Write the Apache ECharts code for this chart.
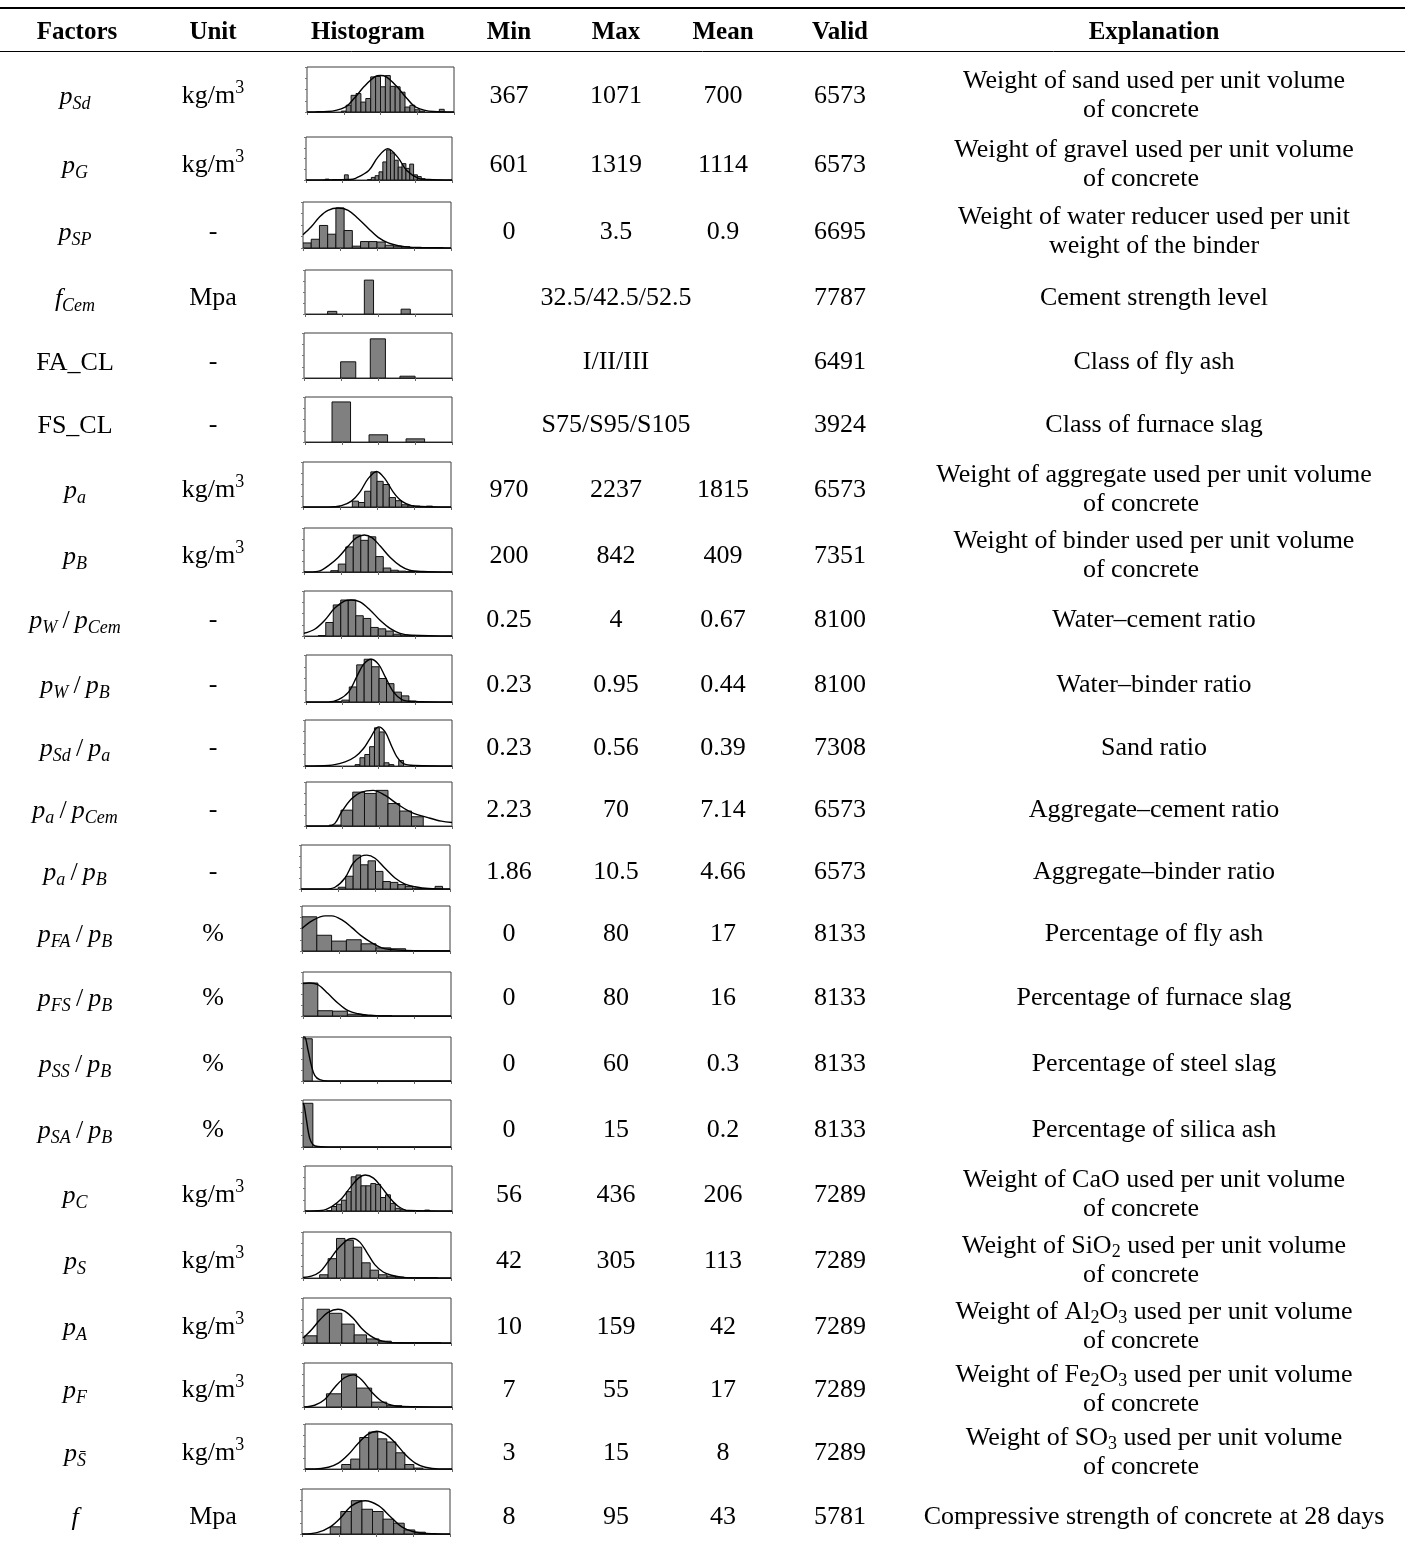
<!DOCTYPE html>
<html>
<head>
<meta charset="utf-8">
<script src="https://cdn.jsdelivr.net/npm/echarts@6/dist/echarts.min.js"></script>
<style>
  html, body { margin: 0; padding: 0; background: #ffffff; }
  #chart { width: 1410px; height: 1546px; }
</style>
</head>
<body>
<div id="chart"></div>
<script>
// ---------- table content ----------
const headers = ['Factors', 'Unit', 'Histogram', 'Min', 'Max', 'Mean', 'Valid', 'Explanation'];

const factorLabels = [
  '{i|p}{s|Sd}', '{i|p}{s|G}', '{i|p}{s|SP}', '{i|f}{s|Cem}', 'FA_CL', 'FS_CL',
  '{i|p}{s|a}', '{i|p}{s|B}',
  '{i|p}{s|W}{n|\u2009/\u2009}{i|p}{s|Cem}', '{i|p}{s|W}{n|\u2009/\u2009}{i|p}{s|B}',
  '{i|p}{s|Sd}{n|\u2009/\u2009}{i|p}{s|a}', '{i|p}{s|a}{n|\u2009/\u2009}{i|p}{s|Cem}',
  '{i|p}{s|a}{n|\u2009/\u2009}{i|p}{s|B}', '{i|p}{s|FA}{n|\u2009/\u2009}{i|p}{s|B}',
  '{i|p}{s|FS}{n|\u2009/\u2009}{i|p}{s|B}', '{i|p}{s|SS}{n|\u2009/\u2009}{i|p}{s|B}',
  '{i|p}{s|SA}{n|\u2009/\u2009}{i|p}{s|B}',
  '{i|p}{s|C}', '{i|p}{s|S}', '{i|p}{s|A}', '{i|p}{s|F}', '{i|p}{s|S\u0304}', '{i|f}'
];

const units = [
  'kg/m{sup|3}', 'kg/m{sup|3}', '-', 'Mpa', '-', '-', 'kg/m{sup|3}', 'kg/m{sup|3}',
  '-', '-', '-', '-', '-', '%', '%', '%', '%',
  'kg/m{sup|3}', 'kg/m{sup|3}', 'kg/m{sup|3}', 'kg/m{sup|3}', 'kg/m{sup|3}', 'Mpa'
];

const minValues  = [367, 601, 0, null, null, null, 970, 200, 0.25, 0.23, 0.23, 2.23, 1.86, 0, 0, 0, 0, 56, 42, 10, 7, 3, 8];
const maxValues  = [1071, 1319, 3.5, null, null, null, 2237, 842, 4, 0.95, 0.56, 70, 10.5, 80, 80, 60, 15, 436, 305, 159, 55, 15, 95];
const meanValues = [700, 1114, 0.9, null, null, null, 1815, 409, 0.67, 0.44, 0.39, 7.14, 4.66, 17, 16, 0.3, 0.2, 206, 113, 42, 17, 8, 43];
const validCounts = [6573, 6573, 6695, 7787, 6491, 3924, 6573, 7351, 8100, 8100, 7308, 6573, 6573, 8133, 8133, 8133, 8133, 7289, 7289, 7289, 7289, 7289, 5781];
const classLevels = [null, null, null, '32.5/42.5/52.5', 'I/II/III', 'S75/S95/S105', null, null, null, null, null, null, null, null, null, null, null, null, null, null, null, null, null];

const explanations = [
  ['Weight of sand used per unit volume', 'of concrete'],
  ['Weight of gravel used per unit volume', 'of concrete'],
  ['Weight of water reducer used per unit', 'weight of the binder'],
  ['Cement strength level'],
  ['Class of fly ash'],
  ['Class of furnace slag'],
  ['Weight of aggregate used per unit volume', 'of concrete'],
  ['Weight of binder used per unit volume', 'of concrete'],
  ['Water\u2013cement ratio'],
  ['Water\u2013binder ratio'],
  ['Sand ratio'],
  ['Aggregate\u2013cement ratio'],
  ['Aggregate\u2013binder ratio'],
  ['Percentage of fly ash'],
  ['Percentage of furnace slag'],
  ['Percentage of steel slag'],
  ['Percentage of silica ash'],
  ['Weight of CaO used per unit volume', 'of concrete'],
  ['Weight of SiO{sub|2} used per unit volume', 'of concrete'],
  ['Weight of Al{sub|2}O{sub|3} used per unit volume', 'of concrete'],
  ['Weight of Fe{sub|2}O{sub|3} used per unit volume', 'of concrete'],
  ['Weight of SO{sub|3} used per unit volume', 'of concrete'],
  ['Compressive strength of concrete at 28 days']
];

// ---------- histogram bin heights (share of frame height) ----------
const binsSand = [0.01,0,0,0,0,0.02,0.15,0.37,0.41,0.22,0.30,0.78,0.79,0.56,0.81,0.57,0.56,0.44,0.11,0.15,0.05,0.02,0,0,0,0.06];
const binsGravel = [0.02,0,0.01,0,0,0.12,0,0,0,0,0,0.01,0.06,0.10,0.19,0.42,0.70,0.63,0.46,0.30,0.38,0.27,0.37,0.12,0.08,0.03];
const binsReducer = [0.11,0.19,0.49,0.30,0.87,0.38,0.04,0.14,0.14,0.13,0.06,0.04,0.03,0.01,0.01,0.01,0.01];
const classCement = [0.06,0.77,0.11];
const classFlyAsh = [0.36,0.87,0.04];
const classSlag = [0.89,0.16,0.07];
const binsAggregate = [0.01,0,0,0.13,0.10,0.35,0.78,0.57,0.50,0.21,0.14,0.05,0.03,0.02,0,0.02];
const binsBinder = [0.03,0.18,0.57,0.84,0.72,0.80,0.35,0.09,0.04,0.02,0.01,0.01,0.01];
const binsWaterCement = [0.01,0.30,0.69,0.80,0.80,0.45,0.39,0.19,0.16,0.11,0.04,0.02,0.01];
const binsWaterBinder = [0.01,0.04,0.32,0.79,0.91,0.75,0.50,0.39,0.21,0.13,0.02,0.01];
const binsSandRatio = [0.03,0.18,0.25,0.42,0.83,0.74,0.07,0.03,0,0.12,0,0,0.01,0.01];
const binsAggCement = [0.02,0.36,0.77,0.74,0.81,0.51,0.34,0.21];
const binsAggBinder = [0.04,0.29,0.77,0.55,0.64,0.40,0.17,0.15,0.10,0.06,0.02,0.01,0,0.06];
const binsFlyAshPct = [0.76,0.35,0.22,0.25,0.16,0.07,0.05,0.01,0.005,0.005];
const binsSlagPct = [0.75,0.12,0.11,0.04,0.01,0.005];
const binsSteelSlagPct = [0.96];
const binsSilicaPct = [0.93];
const binsCaO = [0.01,0.10,0.15,0.24,0.43,0.76,0.80,0.56,0.56,0.61,0.59,0.30,0.36,0.17,0.06,0.03,0.01,0,0,0,0.02];
const binsSiO2 = [0.07,0.42,0.86,0.82,0.67,0.33,0.17,0.07,0.04,0.02,0.01,0.005,0.005,0.005];
const binsAl2O3 = [0.16,0.75,0.66,0.42,0.18,0.09,0.04,0.01,0.005,0.005,0.005];
const binsFe2O3 = [0.30,0.75,0.43,0.11,0.03,0.01];
const binsSO3 = [0.10,0.22,0.70,0.82,0.67,0.60,0.36,0.10,0.02];
const binsStrength = [0.16,0.50,0.74,0.55,0.50,0.33,0.24,0.09,0.04,0.01];

// ---------- fitted normal curves: [share of frame width, share of frame height] ----------
const curveSand = [[0,0],[0.14,0.01],[0.26,0.11],[0.32,0.30],[0.39,0.57],[0.46,0.78],[0.50,0.81],[0.54,0.78],[0.61,0.57],[0.68,0.30],[0.74,0.11],[0.86,0.01],[1,0]];
const curveGravel = [[0,0],[0.30,0.01],[0.34,0.04],[0.43,0.22],[0.49,0.52],[0.56,0.73],[0.63,0.52],[0.69,0.22],[0.77,0.04],[0.84,0.01],[1,0]];
const curveReducer = [[0,0.29],[0.056,0.46],[0.113,0.68],[0.169,0.82],[0.237,0.87],[0.305,0.82],[0.372,0.64],[0.44,0.43],[0.508,0.23],[0.576,0.11],[0.643,0.05],[0.711,0.02],[0.80,0.01],[1,0]];
const curveAggregate = [[0,0],[0.17,0],[0.26,0.03],[0.327,0.13],[0.384,0.33],[0.44,0.63],[0.497,0.79],[0.553,0.63],[0.61,0.33],[0.666,0.13],[0.734,0.03],[0.80,0.01],[1,0]];
const curveBinder = [[0,0],[0.10,0.02],[0.163,0.14],[0.231,0.33],[0.299,0.59],[0.355,0.78],[0.407,0.84],[0.459,0.78],[0.515,0.59],[0.583,0.33],[0.651,0.14],[0.714,0.04],[0.80,0.01],[1,0]];
const curveWaterCement = [[0,0.06],[0.072,0.15],[0.14,0.35],[0.208,0.62],[0.276,0.78],[0.321,0.80],[0.378,0.76],[0.446,0.58],[0.514,0.35],[0.581,0.17],[0.649,0.06],[0.728,0.02],[1,0]];
const curveWaterBinder = [[0,0],[0.153,0],[0.222,0.05],[0.291,0.21],[0.348,0.54],[0.394,0.80],[0.446,0.91],[0.497,0.80],[0.542,0.54],[0.60,0.21],[0.657,0.05],[0.725,0.01],[1,0]];
const curveSandRatio = [[0,0],[0.159,0.01],[0.273,0.09],[0.341,0.20],[0.398,0.38],[0.443,0.60],[0.50,0.85],[0.545,0.74],[0.591,0.42],[0.625,0.20],[0.67,0.05],[0.75,0.01],[1,0]];
const curveAggCement = [[0,0],[0.153,0],[0.198,0.06],[0.244,0.32],[0.312,0.62],[0.38,0.77],[0.46,0.81],[0.54,0.70],[0.63,0.49],[0.722,0.31],[0.836,0.19],[0.927,0.11],[1,0.08]];
const curveAggBinder = [[0,0],[0.161,0],[0.228,0.04],[0.295,0.25],[0.351,0.59],[0.407,0.75],[0.441,0.77],[0.497,0.70],[0.564,0.47],[0.631,0.25],[0.698,0.11],[0.765,0.05],[0.855,0.01],[1,0]];
const curveFlyAshPct = [[0,0.50],[0.067,0.67],[0.157,0.78],[0.202,0.78],[0.27,0.69],[0.337,0.52],[0.404,0.33],[0.472,0.18],[0.539,0.07],[0.607,0.03],[0.697,0.01],[1,0]];
const curveSlagPct = [[0,0.74],[0.045,0.75],[0.102,0.71],[0.169,0.51],[0.237,0.29],[0.305,0.12],[0.372,0.05],[0.44,0.02],[0.53,0],[1,0]];
const curveSteelSlagPct = [[0,1.0],[0.011,1.0],[0.034,0.70],[0.056,0.36],[0.079,0.13],[0.113,0.03],[0.17,0],[1,0]];
const curveSilicaPct = [[0,0.93],[0.007,0.89],[0.023,0.58],[0.045,0.19],[0.068,0.05],[0.10,0.01],[0.20,0],[1,0]];
const curveCaO = [[0,0],[0.114,0.01],[0.182,0.10],[0.25,0.28],[0.307,0.52],[0.364,0.73],[0.409,0.80],[0.466,0.73],[0.523,0.52],[0.58,0.28],[0.636,0.10],[0.705,0.01],[1,0]];
const curveSiO2 = [[0,0.01],[0.056,0.04],[0.113,0.13],[0.169,0.35],[0.237,0.64],[0.305,0.84],[0.339,0.86],[0.384,0.78],[0.429,0.57],[0.485,0.29],[0.542,0.13],[0.598,0.06],[0.666,0.02],[0.756,0],[1,0]];
const curveAl2O3 = [[0,0.11],[0.056,0.29],[0.113,0.51],[0.169,0.68],[0.237,0.75],[0.282,0.71],[0.339,0.55],[0.395,0.33],[0.451,0.17],[0.508,0.07],[0.576,0.02],[0.666,0],[1,0]];
const curveFe2O3 = [[0,0],[0.072,0.04],[0.14,0.17],[0.208,0.45],[0.276,0.67],[0.333,0.73],[0.389,0.62],[0.457,0.34],[0.525,0.13],[0.593,0.04],[0.661,0.01],[1,0]];
const curveSO3 = [[0,0],[0.068,0],[0.159,0.04],[0.227,0.13],[0.295,0.32],[0.364,0.58],[0.432,0.78],[0.489,0.84],[0.545,0.78],[0.614,0.58],[0.682,0.32],[0.75,0.13],[0.818,0.04],[0.909,0],[1,0]];
const curveStrength = [[0,0],[0.101,0.03],[0.191,0.16],[0.258,0.35],[0.337,0.63],[0.427,0.74],[0.517,0.63],[0.596,0.39],[0.674,0.16],[0.753,0.05],[0.843,0.01],[1,0]];

const histBins = [
  binsSand, binsGravel, binsReducer, classCement, classFlyAsh, classSlag, binsAggregate, binsBinder,
  binsWaterCement, binsWaterBinder, binsSandRatio, binsAggCement, binsAggBinder, binsFlyAshPct,
  binsSlagPct, binsSteelSlagPct, binsSilicaPct, binsCaO, binsSiO2, binsAl2O3, binsFe2O3, binsSO3, binsStrength
];
const histCurves = [
  curveSand, curveGravel, curveReducer, [], [], [], curveAggregate, curveBinder,
  curveWaterCement, curveWaterBinder, curveSandRatio, curveAggCement, curveAggBinder, curveFlyAshPct,
  curveSlagPct, curveSteelSlagPct, curveSilicaPct, curveCaO, curveSiO2, curveAl2O3, curveFe2O3, curveSO3, curveStrength
];

// ---------- layout ----------
const FONT = "'Liberation Serif', 'Times New Roman', serif";
const colX = { factor: 75, unit: 213, hist: 368, min: 509, max: 616, mean: 723, valid: 840, expl: 1154 };
const headerY = 33;
const rowY = [96, 165, 232, 298, 362, 425, 490, 556, 620, 685, 748, 810, 872, 934, 998, 1064, 1130, 1195, 1261, 1327, 1390, 1453, 1517];

// histogram frames: [left, top, right, bottom]
const histBoxes = [
  [307, 67, 454, 112], [306, 137, 452, 180], [303, 202, 451, 248], [305, 270, 452, 314],
  [304, 333, 452, 378], [305, 397, 452, 442], [303, 462, 451, 507], [304, 528, 452, 572],
  [304, 591, 452, 636], [306, 655, 452, 702], [305, 720, 452, 766], [306, 782, 452, 826],
  [301, 845, 450, 889], [302, 906, 450, 951], [303, 972, 451, 1016], [303, 1037, 451, 1081],
  [303, 1100, 451, 1147], [305, 1166, 452, 1211], [303, 1232, 451, 1278], [303, 1298, 451, 1343],
  [304, 1363, 452, 1407], [305, 1424, 452, 1469], [302, 1489, 450, 1534]
];
// visible range of each bin axis (in bin units)
const binRanges = [
  [-2, 28], [-5, 33], [0, 18], [0.26, 4.26], [-0.49, 4.5], [0.02, 3.99], [-5, 19], [-3.57, 16.16],
  [-1.9, 17.83], [-3.81, 15.79], [-10.34, 20], [-1.98, 10.45], [-5, 15], [0, 10], [0, 10], [0, 16],
  [0, 15], [-4.43, 25.57], [-1.98, 15.6], [-0.14, 11.83], [-1.49, 8.33], [-4.07, 12.23], [-2.67, 11.33]
];
// [centre of first bar, bar width] in bin units
const barSlots = histBoxes.map((b, k) => {
  if (k === 3) return [1, 0.25];
  if (k === 4) return [1, 0.51];
  if (k === 5) return [1, 0.5];
  return [0.5, 1];
});

// ---------- build the chart ----------
const rich = {
  i:   { fontFamily: FONT, fontSize: 26, fontStyle: 'italic', fill: '#000' },
  s:   { fontFamily: FONT, fontSize: 18, fontStyle: 'italic', fill: '#000', padding: [14, 0, 0, 0] },
  n:   { fontFamily: FONT, fontSize: 26, fill: '#000' },
  sup: { fontFamily: FONT, fontSize: 18, fill: '#000', padding: [0, 0, 16, 0] },
  sub: { fontFamily: FONT, fontSize: 18, fill: '#000', padding: [12, 0, 0, 0] }
};

function label(x, y, text, extra) {
  return {
    type: 'text', x: x, y: y, silent: true,
    style: Object.assign({
      text: text, fill: '#000', fontFamily: FONT, fontSize: 26,
      align: 'center', verticalAlign: 'middle',
      textAlign: 'center', textVerticalAlign: 'middle',
      rich: rich
    }, extra || {})
  };
}

const elements = [];
// rules
elements.push({ type: 'line', silent: true, shape: { x1: 0, y1: 8, x2: 1405, y2: 8 }, style: { stroke: '#000', lineWidth: 2 } });
elements.push({ type: 'line', silent: true, shape: { x1: 0, y1: 51.5, x2: 1405, y2: 51.5 }, style: { stroke: '#000', lineWidth: 1 } });

// header
const headerX = [colX.factor + 2, colX.unit, colX.hist, colX.min, colX.max, colX.mean, colX.valid, colX.expl];
headers.forEach((h, j) => elements.push(label(headerX[j], headerY, h, { fontWeight: 'bold', fontSize: 25 })));

// body rows
rowY.forEach((y, r) => {
  elements.push(label(colX.factor, y + 1, factorLabels[r]));
  elements.push(label(colX.unit, y, units[r]));
  if (classLevels[r]) {
    elements.push(label(colX.max, y, classLevels[r]));
  } else {
    elements.push(label(colX.min, y, String(minValues[r])));
    elements.push(label(colX.max, y, String(maxValues[r])));
    elements.push(label(colX.mean, y, String(meanValues[r])));
  }
  elements.push(label(colX.valid, y, String(validCounts[r])));
  const lines = explanations[r];
  if (lines.length === 1) {
    elements.push(label(colX.expl, y, lines[0]));
  } else {
    elements.push(label(colX.expl, y - 14.5, lines[0]));
    const x2 = lines[1] === 'of concrete' ? colX.expl - 13 : colX.expl;
    elements.push(label(x2, y + 14.5, lines[1]));
  }
});

function renderBar(params, api) {
  const x0 = api.value(0), x1 = api.value(1), h = api.value(2);
  if (!(h > 0)) return null;
  const a = api.coord([x0, 0]);
  const b = api.coord([x1, h]);
  return {
    type: 'rect',
    shape: { x: a[0], y: b[1], width: b[0] - a[0], height: a[1] - b[1] },
    style: { fill: '#808080', stroke: '#111', lineWidth: 1 }
  };
}

const grid = [], xAxis = [], yAxis = [], series = [];
histBoxes.forEach((b, k) => {
  grid.push({
    left: b[0], top: b[1], width: b[2] - b[0], height: b[3] - b[1],
    show: true, borderColor: '#3c3c3c', borderWidth: 1, backgroundColor: '#fff',
    containLabel: false, outerBoundsMode: 'none'
  });
  xAxis.push({ type: 'value', gridIndex: k, position: 'bottom', min: binRanges[k][0], max: binRanges[k][1], show: false });
  xAxis.push({
    type: 'value', gridIndex: k, position: 'bottom', min: 0, max: 1, interval: 0.25,
    axisLine: { show: true, onZero: false, lineStyle: { color: '#222', width: 1 } },
    axisTick: { show: true, length: 3, lineStyle: { color: '#666' } },
    axisLabel: { show: false }, splitLine: { show: false }
  });
  yAxis.push({
    type: 'value', gridIndex: k, position: 'left', min: 0, max: 1, interval: 0.25,
    axisLine: { show: false, onZero: false },
    axisTick: { show: true, length: 2, lineStyle: { color: '#777' } },
    axisLabel: { show: false }, splitLine: { show: false }
  });
  const c0 = barSlots[k][0], w = barSlots[k][1];
  series.push({
    type: 'custom', xAxisIndex: 2 * k, yAxisIndex: k, clip: true, silent: true,
    renderItem: renderBar, encode: { x: [0, 1], y: 2 },
    data: histBins[k].map((h, i) => [c0 + i - w / 2, c0 + i + w / 2, h])
  });
  if (histCurves[k].length) {
    series.push({
      type: 'line', xAxisIndex: 2 * k + 1, yAxisIndex: k, clip: true, silent: true,
      data: histCurves[k], smooth: 0.35, symbol: 'none',
      lineStyle: { color: '#000', width: 1.4 }, z: 3
    });
  }
});

const chart = echarts.init(document.getElementById('chart'), null, { renderer: 'canvas' });
chart.setOption({
  animation: false,
  backgroundColor: '#ffffff',
  grid: grid,
  xAxis: xAxis,
  yAxis: yAxis,
  series: series,
  graphic: { elements: elements }
});
</script>
</body>
</html>
